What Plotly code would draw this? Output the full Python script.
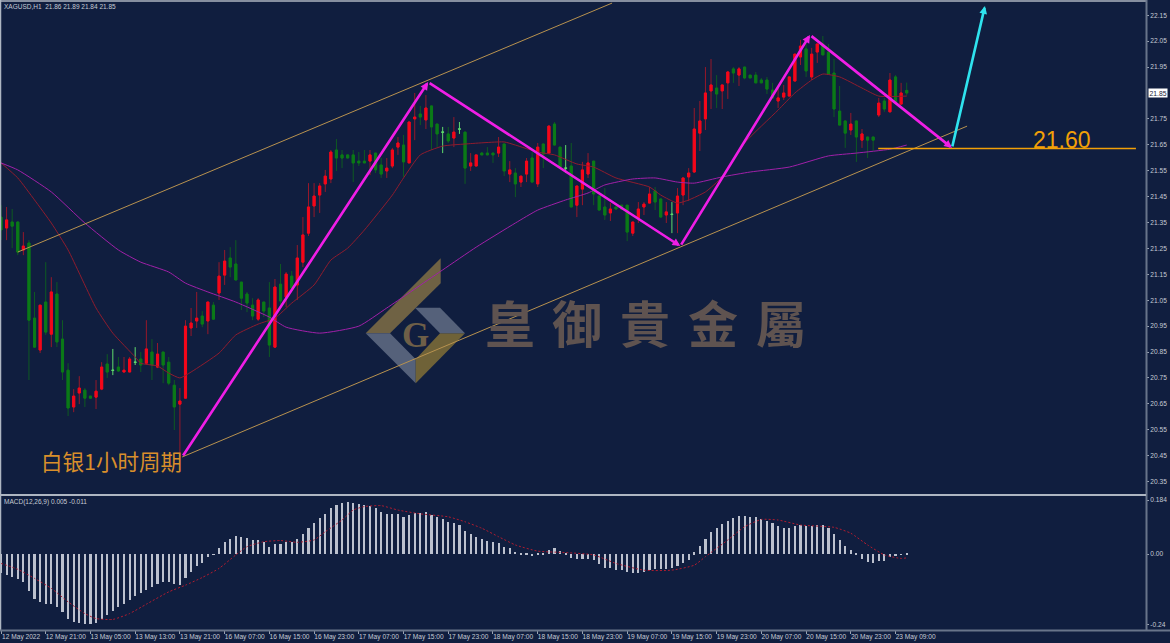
import numpy as np
import plotly.graph_objects as go

# ---------- data ----------
open_ = [21.371,21.329,21.352,21.352,21.244,21.271,20.981,20.858,21.043,20.919,
 21.074,20.900,20.780,20.638,20.692,20.703,20.680,20.676,20.707,20.804,
 20.781,20.792,20.773,20.773,20.812,20.823,20.807,20.850,20.792,20.850,
 20.811,20.722,20.649,20.672,20.943,20.970,20.989,20.970,21.031,21.078,
 21.147,21.213,21.190,21.120,21.074,21.031,20.977,21.043,21.020,20.869,
 21.112,21.062,21.143,21.109,21.197,21.309,21.414,21.456,21.499,21.518,
 21.630,21.611,21.611,21.611,21.587,21.587,21.587,21.618,21.572,21.549,
 21.568,21.641,21.649,21.580,21.750,21.769,21.746,21.800,21.730,21.700,
 21.692,21.676,21.712,21.699,21.568,21.568,21.618,21.618,21.618,21.618,
 21.653,21.537,21.541,21.506,21.537,21.599,21.499,21.653,21.618,21.730,
 21.641,21.561,21.568,21.417,21.479,21.537,21.587,21.452,21.410,21.387,
 21.410,21.417,21.417,21.309,21.367,21.410,21.425,21.472,21.441,21.379,
 21.383,21.387,21.456,21.526,21.545,21.695,21.750,21.858,21.869,21.858,
 21.889,21.943,21.919,21.950,21.919,21.919,21.900,21.900,21.861,21.819,
 21.834,21.838,21.896,21.989,22.020,21.912,22.008,22.039,22.008,21.927,
 21.780,21.742,21.707,21.742,21.668,21.680,21.680,21.765,21.819,21.777,
 21.912,21.807,21.86]
high = [21.417,21.410,21.402,21.352,21.313,21.282,21.082,21.031,21.197,21.139,
 21.120,20.973,20.807,20.707,20.757,20.711,20.680,20.742,20.811,20.842,
 20.862,20.831,20.831,20.831,20.869,20.850,20.973,20.900,20.885,20.850,
 20.831,20.742,20.711,20.973,21.020,21.082,21.008,21.043,21.043,21.197,
 21.244,21.255,21.282,21.120,21.082,21.058,21.058,21.043,21.120,21.132,
 21.190,21.159,21.163,21.263,21.371,21.502,21.502,21.502,21.553,21.630,
 21.672,21.630,21.611,21.630,21.622,21.630,21.630,21.618,21.599,21.599,
 21.638,21.680,21.688,21.738,21.850,21.800,21.842,21.800,21.730,21.719,
 21.719,21.757,21.738,21.699,21.618,21.611,21.622,21.641,21.618,21.680,
 21.653,21.587,21.560,21.529,21.599,21.622,21.657,21.653,21.726,21.738,
 21.641,21.649,21.657,21.491,21.584,21.618,21.587,21.452,21.483,21.425,
 21.410,21.417,21.417,21.352,21.429,21.429,21.487,21.487,21.441,21.429,
 21.429,21.483,21.522,21.560,21.792,21.819,21.950,21.981,21.919,21.881,
 21.935,21.950,21.950,21.950,21.919,21.931,21.908,21.912,21.889,21.869,
 21.881,21.912,22.000,22.055,22.047,22.024,22.039,22.070,22.039,21.981,
 21.877,21.742,21.773,21.742,21.711,21.680,21.680,21.831,21.831,21.927,
 21.919,21.889,21.89]
low = [21.282,21.282,21.251,21.224,21.224,20.742,20.869,20.846,20.916,20.869,
 20.869,20.742,20.603,20.618,20.649,20.638,20.672,20.630,20.703,20.750,
 20.761,20.773,20.773,20.773,20.800,20.773,20.800,20.742,20.788,20.730,
 20.722,20.549,20.445,20.672,20.912,20.943,20.946,20.919,20.977,21.051,
 21.109,21.139,21.128,21.012,21.004,20.973,20.970,20.985,20.831,20.869,
 21.031,21.024,21.097,21.051,21.178,21.298,21.371,21.387,21.468,21.502,
 21.549,21.560,21.599,21.506,21.568,21.580,21.533,21.541,21.522,21.522,
 21.560,21.611,21.526,21.580,21.668,21.726,21.711,21.630,21.641,21.618,
 21.657,21.641,21.692,21.499,21.549,21.568,21.611,21.611,21.580,21.603,
 21.529,21.506,21.448,21.487,21.506,21.506,21.487,21.560,21.618,21.649,
 21.564,21.541,21.410,21.371,21.417,21.522,21.417,21.398,21.360,21.356,
 21.402,21.402,21.278,21.298,21.348,21.379,21.425,21.398,21.371,21.348,
 21.309,21.309,21.417,21.433,21.541,21.626,21.707,21.788,21.792,21.788,
 21.827,21.889,21.877,21.903,21.908,21.889,21.889,21.846,21.831,21.792,
 21.823,21.838,21.896,21.958,21.912,21.900,21.966,21.997,21.923,21.757,
 21.726,21.638,21.688,21.584,21.638,21.599,21.626,21.757,21.777,21.777,
 21.815,21.807,21.84]
close = [21.321,21.360,21.336,21.236,21.259,20.973,20.869,21.031,20.927,21.082,
 20.889,20.773,20.634,20.680,20.711,20.672,20.672,20.699,20.792,20.773,
 20.779,20.777,20.780,20.823,20.810,20.800,20.862,20.800,20.842,20.800,
 20.730,20.638,20.661,20.950,20.962,20.981,20.958,21.043,20.977,21.143,
 21.201,21.178,21.128,21.058,21.039,20.989,21.051,21.008,20.877,21.101,
 21.047,21.151,21.097,21.213,21.302,21.410,21.452,21.491,21.529,21.622,
 21.599,21.599,21.599,21.580,21.580,21.580,21.611,21.553,21.537,21.560,
 21.630,21.657,21.584,21.738,21.757,21.757,21.792,21.719,21.692,21.698,
 21.665,21.699,21.710,21.560,21.580,21.611,21.611,21.611,21.611,21.641,
 21.549,21.553,21.499,21.529,21.587,21.506,21.641,21.614,21.722,21.649,
 21.564,21.559,21.410,21.491,21.553,21.580,21.460,21.398,21.379,21.402,
 21.402,21.402,21.313,21.352,21.402,21.421,21.460,21.429,21.371,21.391,
 21.381,21.452,21.522,21.541,21.711,21.742,21.850,21.881,21.846,21.881,
 21.931,21.927,21.943,21.908,21.908,21.889,21.889,21.865,21.831,21.831,
 21.850,21.912,22.000,22.031,21.935,22.000,22.039,21.997,21.923,21.788,
 21.726,21.695,21.730,21.680,21.692,21.668,21.668,21.811,21.788,21.900,
 21.815,21.850,21.85]
doji_bars = [20, 24, 79, 82, 101, 120]

ma_fast_i = [0,3,6,9,12,17,20,24,25,28,30,32,34,39,42,46,49,52,56,59,62,65,70,72,75,79,83,90,92,96,99,103,106,110,116,118,121,123,126,129,133,139,142,145,147,150,154,157,162]
ma_fast = [21.580,21.522,21.437,21.348,21.244,21.020,20.923,20.831,20.807,20.796,20.769,20.750,20.773,20.846,20.916,20.958,20.981,21.039,21.109,21.205,21.251,21.321,21.456,21.522,21.611,21.645,21.653,21.661,21.649,21.622,21.611,21.576,21.564,21.522,21.487,21.456,21.425,21.437,21.468,21.526,21.657,21.784,21.850,21.900,21.923,21.912,21.869,21.838,21.838]
ma_slow_i = [0,3,9,15,21,25,30,33,37,42,48,51,57,64,69,79,85,92,96,101,105,108,113,117,121,124,129,134,141,148,153,159,162]
ma_slow = [21.580,21.553,21.468,21.348,21.244,21.197,21.159,21.116,21.082,21.043,20.985,20.946,20.923,20.950,21.020,21.167,21.255,21.348,21.398,21.437,21.464,21.495,21.518,21.522,21.506,21.502,21.526,21.545,21.564,21.607,21.618,21.633,21.649]

macd_hist = [-0.066,-0.072,-0.077,-0.086,-0.097,-0.125,-0.154,-0.163,-0.171,-0.171,
 -0.182,-0.199,-0.220,-0.233,-0.234,-0.237,-0.239,-0.234,-0.222,-0.208,
 -0.195,-0.182,-0.171,-0.157,-0.143,-0.132,-0.121,-0.112,-0.102,-0.097,
 -0.097,-0.102,-0.106,-0.081,-0.060,-0.041,-0.030,-0.009,-0.002,0.019,
 0.040,0.053,0.061,0.058,0.056,0.048,0.048,0.040,0.025,0.033,
 0.033,0.040,0.042,0.051,0.068,0.088,0.105,0.123,0.137,0.156,
 0.166,0.173,0.176,0.173,0.171,0.167,0.165,0.156,0.145,0.137,
 0.137,0.137,0.127,0.133,0.139,0.139,0.142,0.133,0.127,0.118,
 0.108,0.105,0.099,0.080,0.067,0.057,0.051,0.044,0.040,0.036,
 0.025,0.019,0.008,0.002,0.002,-0.007,0.002,0.005,0.014,0.019,
 0.010,0.005,-0.015,-0.018,-0.018,-0.017,-0.020,-0.034,-0.046,-0.049,
 -0.055,-0.055,-0.060,-0.066,-0.063,-0.060,-0.055,-0.052,-0.051,-0.050,
 -0.049,-0.041,-0.030,-0.020,0.006,0.027,0.053,0.074,0.090,0.102,
 0.114,0.123,0.129,0.130,0.127,0.125,0.118,0.114,0.105,0.096,
 0.088,0.088,0.096,0.099,0.096,0.097,0.098,0.098,0.088,0.068,
 0.048,0.027,0.014,0.001,-0.016,-0.026,-0.032,-0.024,-0.023,-0.009,
 -0.007,-0.001,0.002]
signal_i = [0,3,6,9,12,15,17,20,23,26,30,33,36,39,42,44,47,50,53,56,58,61,63,65,68,71,75,80,83,86,89,92,96,101,106,110,115,120,124,126,130,133,136,139,143,149,152,155,158,161,162]
signal = [-0.032,-0.052,-0.083,-0.117,-0.163,-0.203,-0.220,-0.223,-0.203,-0.171,-0.129,-0.106,-0.080,-0.049,-0.003,0.025,0.042,0.046,0.040,0.048,0.076,0.116,0.150,0.162,0.165,0.150,0.137,0.127,0.110,0.088,0.059,0.031,0.010,0.005,-0.003,-0.032,-0.055,-0.055,-0.038,-0.009,0.048,0.093,0.118,0.116,0.099,0.091,0.071,0.031,-0.003,-0.015,-0.013]

channel_up_i, channel_up_p = [3, 109.3], [21.236, 22.197]
channel_lo_i, channel_lo_p = [32.4, 172.8], [20.445, 21.722]
wave_i = [32.4, 76.4, 121.5, 144.7, 170.1]
wave_p = [20.445, 21.892, 21.259, 22.074, 21.638]
target_i = [170.1, 176.0]
target_p = [21.638, 22.186]
level_i, level_p = [156.9, 203.0], [21.636, 21.636]

time_tick_i = list(range(0, 161, 8))
time_labels = ["12 May 2022","12 May 21:00","13 May 05:00","13 May 13:00","13 May 21:00",
 "16 May 07:00","16 May 15:00","16 May 23:00","17 May 07:00","17 May 15:00","17 May 23:00",
 "18 May 07:00","18 May 15:00","18 May 23:00","19 May 07:00","19 May 15:00","19 May 23:00",
 "20 May 07:00","20 May 15:00","20 May 23:00","23 May 09:00"]
price_ticks = [22.15,22.05,21.95,21.75,21.65,21.55,21.45,21.35,21.25,21.15,21.05,20.95,20.85,20.75,20.65,20.55,20.45,20.35]
macd_ticks = [0.184, 0.0, -0.24]
macd_labels = ["0.184", "0.00", "-0.24"]

# ---------- style ----------
W, H = 1170, 643
BG = "#101e3f"
TXT = "#c6cbd5"
FONT = "Liberation Sans"
CJK = "Noto Sans CJK SC"
px = lambda x: x / W
py = lambda y: 1 - y / H

x = np.arange(len(open_))
o, h, l, c = map(np.array, (open_, high, low, close))
is_doji = np.isin(x, doji_bars)
keep = ~is_doji

fig = go.Figure()

# wicks (dim)
fig.add_trace(go.Candlestick(x=x[keep], open=o[keep], high=h[keep], low=l[keep], close=c[keep],
    whiskerwidth=0,
    increasing=dict(line=dict(color="#96182a", width=1), fillcolor="#96182a"),
    decreasing=dict(line=dict(color="#0e5a22", width=1), fillcolor="#0e5a22")))
# bodies (bright)
top = np.maximum(o, c); bot = np.minimum(o, c)
fig.add_trace(go.Candlestick(x=x[keep], open=o[keep], high=top[keep], low=bot[keep], close=c[keep],
    whiskerwidth=0,
    increasing=dict(line=dict(color="#f5071a", width=1), fillcolor="#f5071a"),
    decreasing=dict(line=dict(color="#0b7a18", width=1), fillcolor="#0b7a18")))
# doji
fig.add_trace(go.Candlestick(x=x[is_doji], open=o[is_doji], high=h[is_doji], low=l[is_doji], close=c[is_doji],
    whiskerwidth=0,
    increasing=dict(line=dict(color="#5fdc6c", width=1), fillcolor="#5fdc6c"),
    decreasing=dict(line=dict(color="#5fdc6c", width=1), fillcolor="#5fdc6c")))

fig.add_trace(go.Scatter(x=ma_fast_i, y=ma_fast, mode="lines",
    line=dict(color="#8e1c2e", width=1, shape="spline", smoothing=0.5)))
fig.add_trace(go.Scatter(x=ma_slow_i, y=ma_slow, mode="lines",
    line=dict(color="#a020a8", width=1, shape="spline", smoothing=0.5)))
for xs, ys in ((channel_up_i, channel_up_p), (channel_lo_i, channel_lo_p)):
    fig.add_trace(go.Scatter(x=xs, y=ys, mode="lines", line=dict(color="#b8924f", width=1)))
fig.add_trace(go.Scatter(x=level_i, y=level_p, mode="lines", line=dict(color="#f2a007", width=1.5)))

# MACD
fig.add_trace(go.Bar(x=x, y=macd_hist, width=0.38, xaxis="x2", yaxis="y2",
    marker=dict(color="#bcc1ce", line=dict(width=0))))
fig.add_trace(go.Scatter(x=signal_i, y=signal, xaxis="x2", yaxis="y2", mode="lines",
    line=dict(color="#b01c30", width=1, dash="2px,2px", shape="spline", smoothing=0.5)))

# arrows
ann = []
def arrow(x0, y0, x1, y1, color):
    ann.append(dict(x=x1, y=y1, ax=x0, ay=y0, xref="x", yref="y", axref="x", ayref="y", text="",
                    showarrow=True, arrowhead=2, arrowsize=0.6, arrowwidth=2.6, arrowcolor=color,
                    standoff=0, startstandoff=0))
for k in range(len(wave_i) - 1):
    arrow(wave_i[k], wave_p[k], wave_i[k + 1], wave_p[k + 1], "#f01ee6")
arrow(target_i[0], target_p[0], target_i[1], target_p[1], "#2fe3ee")

def label(xp, yp, text, size, color, family=FONT, anchor="left", valign="middle", **kw):
    ann.append(dict(x=px(xp), y=py(yp), xref="paper", yref="paper", text=text, showarrow=False,
                    font=dict(family=family, size=size, color=color),
                    xanchor=anchor, yanchor=valign, **kw))

label(2, 7, "XAGUSD,H1  21.86 21.89 21.84 21.85", 6.5, TXT)
label(2, 502, "MACD(12,26,9) 0.005 -0.011", 6.5, TXT)
label(1062, 140, "21.60", 23, "#f2a007", anchor="center")
label(111, 460, "白银1小时周期", 21.5, "#d98f2b", family=CJK, anchor="center")
label(1158, 93, "21.85", 6.8, "#1a2438", anchor="center", bgcolor="#ffffff", borderpad=0.5)
for ch, cx in zip("皇御貴金屬", (510, 577, 645, 713, 781)):
    label(cx, 321, f"<b>{ch}</b>", 50, "#5f5350", family="Noto Sans CJK TC", anchor="center")
label(415.5, 335, "<b>G</b>", 35, "#6e5f48", family="Liberation Serif", anchor="center")

def poly(points, color):
    path = "M " + " L ".join(f"{px(a):.5f},{py(b):.5f}" for a, b in points) + " Z"
    return dict(type="path", path=path, xref="paper", yref="paper", fillcolor=color,
                line=dict(width=0), layer="below")
def rule(x0, y0, x1, y1, color, width):
    return dict(type="line", x0=px(x0), y0=py(y0), x1=px(x1), y1=py(y1), xref="paper", yref="paper",
                line=dict(color=color, width=width), layer="above")

shapes = [
    poly([(440.7,258.3),(440.7,283.3),(390,333.3),(365.7,333.3)], "#6f6244"),
    poly([(365.7,333.3),(390,333.3),(415.7,359.3),(415.7,383.3)], "#55617a"),
    poly([(415.7,359.3),(415.7,383.3),(465,333.3),(440,333.3)], "#6f6238"),
    poly([(415,307.7),(440,307.7),(465,333.3),(440,333.3)], "#55617a"),
    rule(0, 1, 1146, 1, "#aeb6c2", 1.5),
    rule(0.5, 0, 0.5, 630, "#aeb6c2", 1.5),
    rule(1146.5, 0, 1146.5, 631, "#68748a", 2),
    rule(0, 495, 1146, 495, "#aeb6c2", 2),
    rule(0, 630.5, 1170, 630.5, "#68748a", 2),
]

tick_font = dict(family=FONT, size=6.6, color=TXT)
x_common = dict(range=[0, 204.8], domain=[px(1), px(1146)], showgrid=False, zeroline=False,
                rangeslider=dict(visible=False), fixedrange=True)
fig.update_layout(
    width=W, height=H, margin=dict(l=0, r=0, t=0, b=0), autosize=False,
    paper_bgcolor=BG, plot_bgcolor=BG, showlegend=False, hovermode=False, bargap=0,
    boxmode="overlay", boxgap=0.46,
    annotations=ann, shapes=shapes,
    xaxis=dict(anchor="y", showticklabels=False, ticks="", **x_common),
    xaxis2=dict(anchor="y2", tickmode="array", tickvals=[t + 3.6 for t in time_tick_i],
                ticktext=time_labels, ticks="", tickfont=tick_font, ticklabelstandoff=1,
                minor=dict(tickmode="array", tickvals=time_tick_i, ticks="outside", ticklen=3,
                           tickcolor="#9aa3b2", tickwidth=1),
                **x_common),
    yaxis=dict(domain=[py(493), py(1)], range=[20.306, 22.205], side="right", anchor="x",
               tickmode="array", tickvals=price_ticks, ticktext=[f"{v:.2f}" for v in price_ticks],
               ticks="outside", ticklen=2, tickcolor="#9aa3b2", tickfont=tick_font,
               showgrid=False, zeroline=False, fixedrange=True),
    yaxis2=dict(domain=[py(630), py(497)], range=[-0.259, 0.1945], side="right", anchor="x2",
                tickmode="array", tickvals=macd_ticks, ticktext=macd_labels,
                ticks="outside", ticklen=2, tickcolor="#9aa3b2", tickfont=tick_font,
                showgrid=False, zeroline=False, fixedrange=True),
)

fig.write_html("out.html", config={"displayModeBar": False, "responsive": False},
               post_script="document.body.style.margin='0';document.body.style.overflow='hidden';")
